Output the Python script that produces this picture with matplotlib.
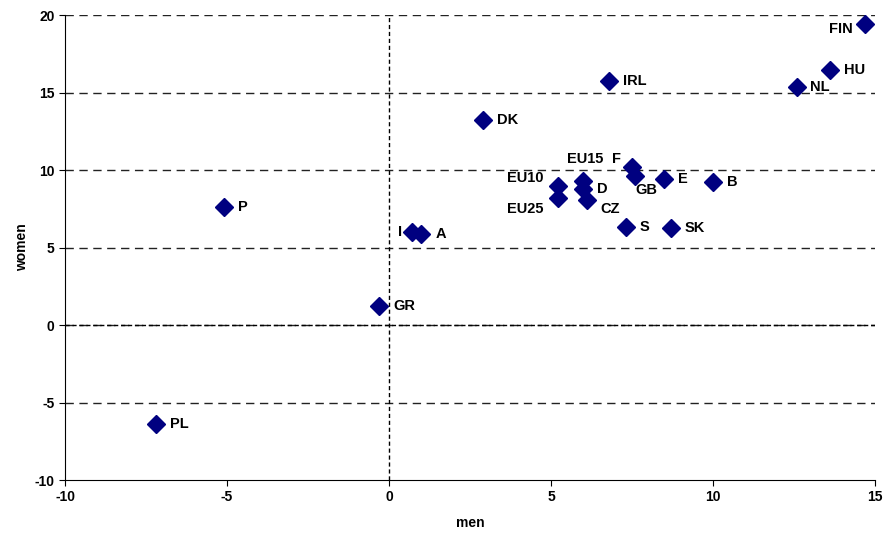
import matplotlib.pyplot as plt

plt.rcParams['font.family'] = ['Liberation Sans', 'DejaVu Sans']
plt.rcParams['axes.unicode_minus'] = False

# Country codes with change in employment rates (men, women)
labels = ['FIN', 'HU', 'NL', 'IRL', 'DK', 'EU15', 'F', 'GB', 'E', 'B', 'EU10',
          'D', 'EU25', 'CZ', 'S', 'SK', 'I', 'A', 'P', 'GR', 'PL']
men = [14.7, 13.6, 12.6, 6.8, 2.9, 6.0, 7.5, 7.6, 8.5, 10.0, 5.2,
       6.0, 5.2, 6.1, 7.3, 8.7, 0.7, 1.0, -5.1, -0.3, -7.2]
women = [19.4, 16.45, 15.35, 15.75, 13.2, 9.3, 10.2, 9.6, 9.4, 9.2, 8.95,
         8.8, 8.2, 8.05, 6.3, 6.25, 6.0, 5.9, 7.6, 1.2, -6.4]

# label placement (offset in points, alignment)
offsets = {
    'FIN': (-9, -3, 'right'), 'EU15': (1, 16, 'center'), 'F': (-8, 6, 'right'),
    'GB': (0, -10, 'left'), 'EU10': (-10, 6, 'right'), 'EU25': (-10, -8, 'right'),
    'I': (-7, 0, 'right'), 'CZ': (10, -6, 'left'), 'NL': (9, 0, 'left'),
}

fig = plt.figure(figsize=(8.88, 5.37), dpi=100)
ax = fig.add_axes([0.0732, 0.106, 0.9122, 0.866])

ax.set_xlim(-10, 15)
ax.set_ylim(-10, 20)
ax.set_xticks(range(-10, 16, 5))
ax.set_yticks(range(-10, 21, 5))

for yv in range(-5, 21, 5):
    ax.axhline(yv, color='#222222', lw=1, ls=(0, (6, 4)), zorder=1)
ax.axhline(0, color='black', lw=1, ls=(0, (3, 2)), zorder=1)
ax.axvline(0, color='black', lw=1, ls=(0, (3, 2)), zorder=1)

ax.plot(men, women, 'D', color='#000080', ms=9.5, ls='none', zorder=3)

for lab, x, y in zip(labels, men, women):
    dx, dy, ha = offsets.get(lab, (10, 0, 'left'))
    ax.annotate(lab, (x, y), xytext=(dx, dy), textcoords='offset points',
                ha=ha, va='center', fontsize=10.5, fontweight='bold')

ax.spines['top'].set_visible(False)
ax.spines['right'].set_visible(False)
ax.tick_params(length=4, labelsize=10)
for t in ax.get_xticklabels() + ax.get_yticklabels():
    t.set_fontweight('bold')

ax.set_xlabel('men', fontsize=10, fontweight='bold', labelpad=8)
ax.set_ylabel('women', fontsize=10, fontweight='bold', labelpad=4)

fig.savefig('out.png', dpi=100)
